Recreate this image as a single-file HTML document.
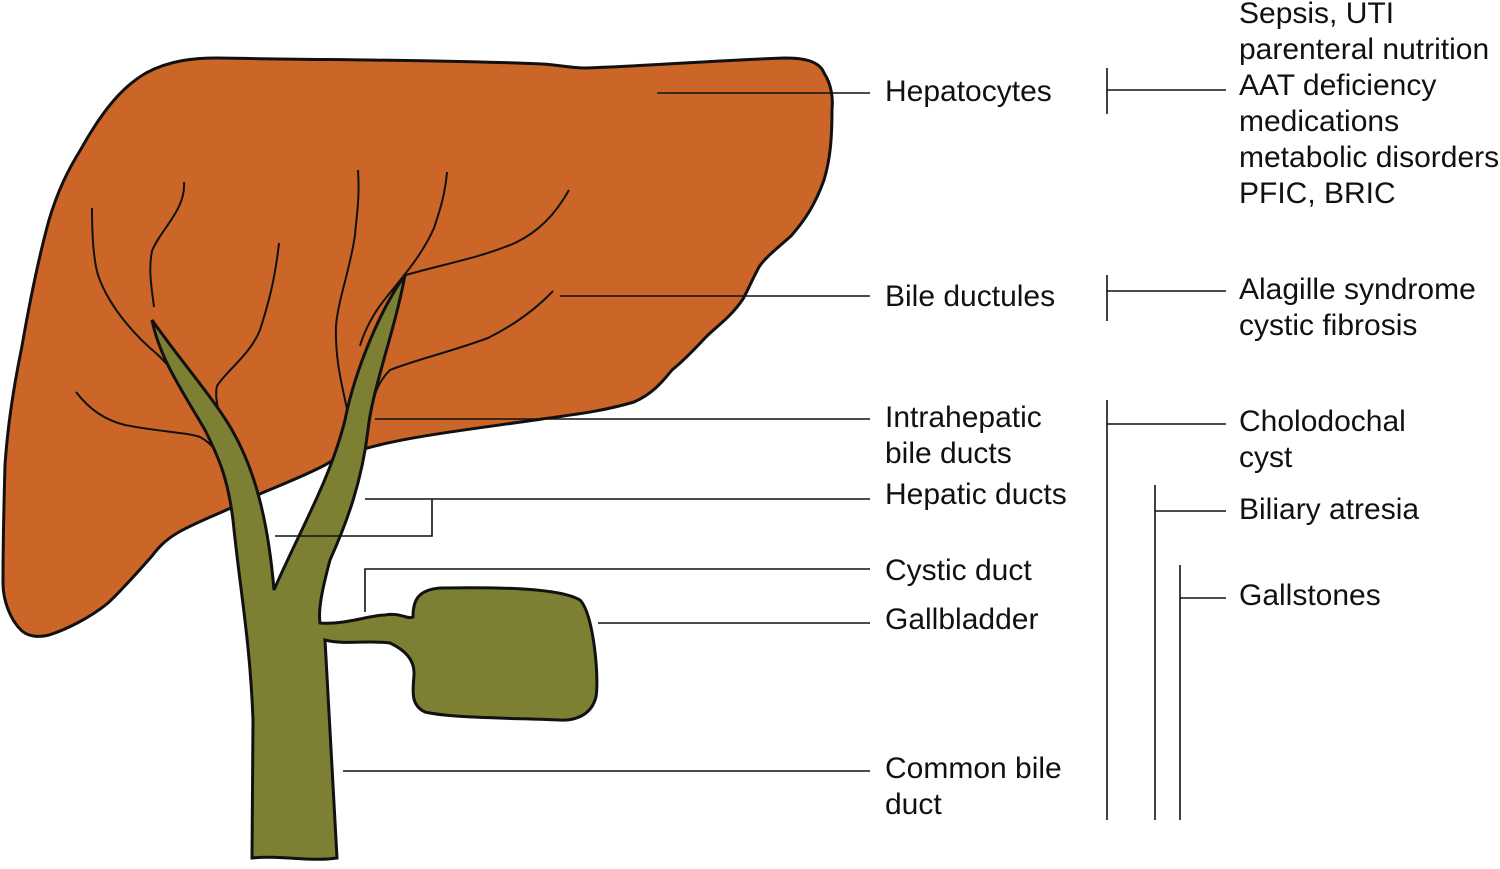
<!DOCTYPE html>
<html><head><style>
body{margin:0;background:#fff;width:1500px;height:864px;overflow:hidden}
svg text{font-family:"Liberation Sans",sans-serif;font-size:30px;fill:#111}
</style></head><body>
<svg width="1500" height="864" viewBox="0 0 1500 864" xmlns="http://www.w3.org/2000/svg">
<path d="M146,73 C170,60 195,58 217,58 C330,60 450,60 542,64 C560,65 570,68 585,68 C650,66 720,60 786,58 C805,58 820,62 824,73 C832,85 833,100 832,109 C832,140 830,160 824,180 C815,205 805,220 791,236 C775,250 765,258 759,267 C752,280 748,290 743,299 C730,318 718,325 705,338 C692,352 682,362 672,370 C660,385 650,395 634,402 C600,412 570,415 542,419 C480,428 420,435 379,445 C360,450 340,455 325,465 C300,478 280,485 255,496 C230,510 200,520 179,532 C165,540 158,548 152,556 C135,575 122,590 108,603 C90,618 65,630 49,635 C38,638 28,636 22,631 C10,620 3,600 3,583 C3,540 4,500 5,465 C8,420 15,380 22,346 C30,300 38,260 49,220 C58,190 68,170 81,149 C100,115 120,88 146,73 Z" fill="#cc6628" stroke="#111" stroke-width="3"/>
<g fill="none" stroke="#111" stroke-width="2">
<path d="M92,208 C92,245 95,265 98,275 C110,310 140,340 157,354 C165,362 175,372 179,378"/>
<path d="M184,182 C186,210 160,230 152,251 C148,270 152,290 154,307"/>
<path d="M279,243 C275,280 268,305 260,330 C250,355 225,372 217,386 C215,395 217,402 218,409"/>
<path d="M358,170 C360,200 356,220 355,235 C350,270 338,300 336,326 C335,360 342,385 347,409"/>
<path d="M447,172 C445,195 440,210 434,228 C420,260 395,285 379,307 C370,320 363,335 360,346"/>
<path d="M569,190 C555,215 538,232 515,243 C480,258 440,265 406,275"/>
<path d="M553,291 C535,310 512,326 488,338 C450,352 415,360 390,370 C380,380 376,390 374,398"/>
<path d="M76,392 C90,410 105,420 125,425 C160,432 185,432 200,437 C215,445 222,460 225,473"/>
</g>
<path d="M252,858 L253,720 C250,640 240,590 233,520 C228,480 220,460 205,430 C185,395 160,360 152,320 C180,360 215,400 232,430 C255,470 268,520 274,590 C300,530 330,480 345,420 C355,370 380,310 405,275 C395,330 372,390 368,430 C362,480 348,520 330,560 C322,590 318,610 320,623 C345,625 370,615 385,615 C400,612 408,620 413,617 C413,600 418,590 440,588 C500,587 560,588 580,600 C595,615 600,690 595,700 C590,715 575,721 560,720 C510,718 450,718 425,712 C410,705 413,690 414,675 C415,660 405,650 390,643 C365,640 345,645 325,640 L337,858 C310,862 280,855 252,858 Z" fill="#7d8033" stroke="#111" stroke-width="3"/>
<g fill="none" stroke="#111" stroke-width="1.6">
<line x1="657" y1="93" x2="870" y2="93"/>
<line x1="560" y1="296" x2="870" y2="296"/>
<line x1="375" y1="419" x2="870" y2="419"/>
<polyline points="365,499 870,499"/>
<polyline points="275,536 432,536 432,499"/>
<polyline points="365,612 365,569 870,569"/>
<line x1="598" y1="623" x2="870" y2="623"/>
<line x1="343" y1="771" x2="870" y2="771"/>
<line x1="1107" y1="68" x2="1107" y2="114"/>
<line x1="1107" y1="90" x2="1226" y2="90"/>
<line x1="1107" y1="275" x2="1107" y2="321"/>
<line x1="1107" y1="291" x2="1226" y2="291"/>
<line x1="1107" y1="400" x2="1107" y2="820"/>
<line x1="1107" y1="424" x2="1226" y2="424"/>
<line x1="1155" y1="485" x2="1155" y2="820"/>
<line x1="1155" y1="511" x2="1226" y2="511"/>
<line x1="1180" y1="565" x2="1180" y2="820"/>
<line x1="1180" y1="598" x2="1226" y2="598"/>
</g>
<text x="885" y="101">Hepatocytes</text>
<text x="885" y="306">Bile ductules</text>
<text x="885" y="427">Intrahepatic</text>
<text x="885" y="463">bile ducts</text>
<text x="885" y="504">Hepatic ducts</text>
<text x="885" y="580">Cystic duct</text>
<text x="885" y="629">Gallbladder</text>
<text x="885" y="778">Common bile</text>
<text x="885" y="814">duct</text>
<text x="1239" y="23">Sepsis, UTI</text>
<text x="1239" y="59">parenteral nutrition</text>
<text x="1239" y="95">AAT deficiency</text>
<text x="1239" y="131">medications</text>
<text x="1239" y="167">metabolic disorders</text>
<text x="1239" y="203">PFIC, BRIC</text>
<text x="1239" y="299">Alagille syndrome</text>
<text x="1239" y="335">cystic fibrosis</text>
<text x="1239" y="431">Cholodochal</text>
<text x="1239" y="467">cyst</text>
<text x="1239" y="519">Biliary atresia</text>
<text x="1239" y="605">Gallstones</text>
</svg>
</body></html>
